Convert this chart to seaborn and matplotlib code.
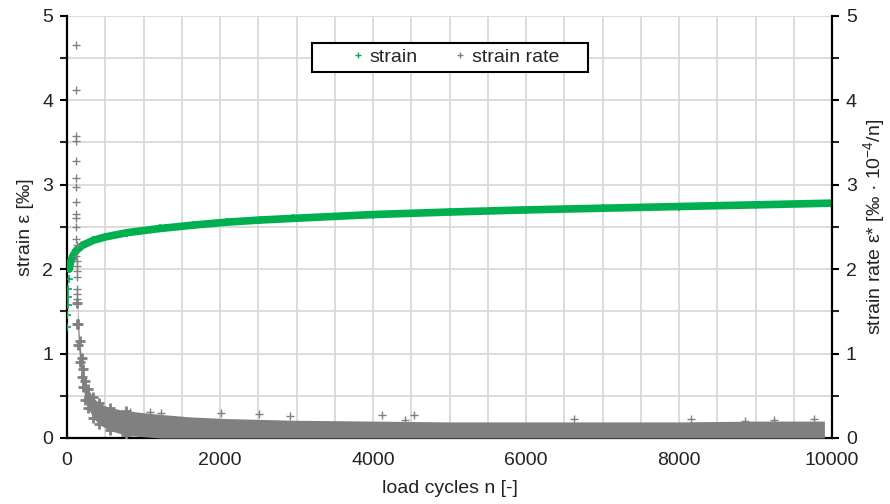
import numpy as np
import pandas as pd
import matplotlib
matplotlib.use("Agg")
import matplotlib.pyplot as plt
import seaborn as sns
from matplotlib.lines import Line2D
from matplotlib.patches import Rectangle
from matplotlib.ticker import MultipleLocator

# Valores
strain_n = [0, 5, 8, 12, 16, 22, 30, 45, 80, 122, 200, 344, 500, 780, 1216,
            1651, 2087, 2523, 2958, 4000, 5000, 6000, 7000, 8000, 9000, 10000]
strain_val = [1.31, 1.45, 1.57, 1.67, 1.76, 1.88, 2.00, 2.08, 2.16, 2.22, 2.28,
              2.34, 2.38, 2.43, 2.48, 2.52, 2.555, 2.58, 2.60, 2.645, 2.675,
              2.70, 2.72, 2.74, 2.76, 2.78]

# pontos isolados no início da taxa de deformação
spike_n = [120, 121, 122, 122, 120, 121, 122, 123, 122, 121, 123, 122, 124, 123,
           125, 124, 126, 127, 128, 130, 131, 133]
spike_val = [4.65, 4.12, 3.57, 3.51, 3.28, 3.08, 2.97, 2.79, 2.65, 2.61, 2.50,
             2.36, 2.29, 2.15, 2.10, 2.04, 1.98, 1.90, 1.76, 1.70, 1.65, 1.59]

# nuvem densa da taxa de deformação (limites inferior / superior)
rate_n = [135, 150, 165, 190, 210, 240, 275, 340, 420, 557, 775, 1210, 1600,
          2080, 2950, 4000, 5000, 6000, 7000, 8000, 9000, 9900]
rate_hi = [1.60, 1.35, 1.15, 0.95, 0.82, 0.68, 0.58, 0.48, 0.41, 0.36, 0.32,
           0.28, 0.25, 0.23, 0.21, 0.20, 0.19, 0.19, 0.19, 0.19, 0.20, 0.20]
rate_lo = [1.35, 1.10, 0.90, 0.72, 0.60, 0.45, 0.36, 0.24, 0.16, 0.09, 0.03,
           0.0, 0.0, 0.0, 0.0, 0.0, 0.0, 0.0, 0.0, 0.0, 0.0, 0.0]

# pontos dispersos acima da nuvem
out_n = [820, 1080, 1230, 2010, 2510, 2915, 4116, 4415, 4533, 6630, 8154,
         8858, 9240, 9770]
out_val = [0.31, 0.31, 0.30, 0.29, 0.28, 0.26, 0.27, 0.21, 0.27, 0.23, 0.22,
           0.20, 0.21, 0.22]

GREEN = "#00b050"
GREY = "#808080"

sns.set_style("white")
plt.rcParams['font.family'] = ['Liberation Sans', 'DejaVu Sans']
plt.rcParams['mathtext.fontset'] = 'custom'
plt.rcParams['mathtext.rm'] = 'Liberation Sans'
plt.rcParams['mathtext.it'] = 'Liberation Sans'

df_strain = pd.DataFrame({'n': strain_n, 'strain': strain_val})
df_spike = pd.DataFrame({'n': spike_n, 'rate': spike_val})
df_out = pd.DataFrame({'n': out_n, 'rate': out_val})
df_cloud = pd.DataFrame({'n': rate_n, 'lo': rate_lo, 'hi': rate_hi})

fig = plt.figure(figsize=(8.9, 5.04), dpi=100)
ax = fig.add_axes([0.0753, 0.131, 0.8596, 0.838])

# deformação (faixa verde)
band = df_strain[df_strain['n'] >= 30]
sns.lineplot(x='n', y='strain', data=band, ax=ax, color=GREEN, linewidth=5.5,
             legend=False, zorder=3)
sns.scatterplot(x='n', y='strain', data=df_strain, ax=ax, marker='+',
                color=GREEN, s=30, linewidth=1.2, legend=False, zorder=3)

ax.set_xlim(0, 10000)
ax.set_ylim(0, 5)
ax.xaxis.set_major_locator(MultipleLocator(2000))
ax.xaxis.set_minor_locator(MultipleLocator(500))
ax.yaxis.set_major_locator(MultipleLocator(1))
ax.yaxis.set_minor_locator(MultipleLocator(0.5))
ax.grid(True, which='both', color='#d9d9d9', linewidth=1.3)
ax.set_axisbelow(True)
ax.set_xlabel('load cycles n [-]', fontsize=14, color='#222222', labelpad=8)
ax.set_ylabel('strain ε [‰]', fontsize=14, color='#222222', labelpad=6)

# taxa de deformação (eixo direito)
ax2 = ax.twinx()
ax2.fill_between(df_cloud['n'], df_cloud['lo'], df_cloud['hi'], color=GREY,
                 linewidth=0, zorder=2)
# bordas da parte íngreme da nuvem, com marcadores "+"
steep = df_cloud[df_cloud['n'] <= 800]
sns.scatterplot(x='n', y='hi', data=steep, ax=ax2, marker='+', color=GREY,
                s=60, linewidth=2.0, legend=False, zorder=3)
sns.scatterplot(x='n', y='lo', data=steep, ax=ax2, marker='+', color=GREY,
                s=60, linewidth=2.0, legend=False, zorder=3)
sns.scatterplot(x='n', y='rate', data=df_spike, ax=ax2, marker='+', color=GREY,
                s=30, linewidth=1.0, legend=False, zorder=3)
sns.scatterplot(x='n', y='rate', data=df_out, ax=ax2, marker='+', color=GREY,
                s=30, linewidth=1.0, legend=False, zorder=3)
ax2.set_ylim(0, 5)
ax2.yaxis.set_major_locator(MultipleLocator(1))
ax2.yaxis.set_minor_locator(MultipleLocator(0.5))
ax2.grid(False)
ax2.set_ylabel('strain rate ε* [‰ · 10$^{-4}$/n]', fontsize=14,
               color='#222222', labelpad=3)
ax2.set_xlabel('')

for a in (ax, ax2):
    for side in ('left', 'right', 'bottom'):
        a.spines[side].set_color('black')
        a.spines[side].set_linewidth(1.6)
    a.spines['top'].set_visible(False)
    a.tick_params(axis='both', which='major', labelsize=14, colors='black',
                  labelcolor='#222222', length=5, width=1.5, pad=5)
    a.tick_params(axis='y', which='minor', length=5, width=1.5)
    a.tick_params(axis='x', which='minor', length=0)
ax.spines['right'].set_visible(False)
ax2.spines['left'].set_visible(False)
ax2.spines['bottom'].set_visible(False)

# legenda com moldura retangular
box = Rectangle((0.3506, 0.857), 0.3101, 0.0585, transform=fig.transFigure,
                facecolor='white', edgecolor='black', linewidth=1.5, zorder=10)
fig.patches.append(box)
handles = [Line2D([], [], marker='+', linestyle='', color=GREEN,
                  markersize=5, markeredgewidth=1.0),
           Line2D([], [], marker='+', linestyle='', color=GREY,
                  markersize=5, markeredgewidth=1.0)]
leg = fig.legend(handles, ['strain', 'strain rate'], loc='center',
                 bbox_to_anchor=(0.512, 0.887), ncol=2, frameon=False,
                 fontsize=14, handlelength=0.6, handletextpad=0.3,
                 columnspacing=1.9)
leg.set_zorder(11)

plt.savefig('out.png', dpi=100)
plt.close()
